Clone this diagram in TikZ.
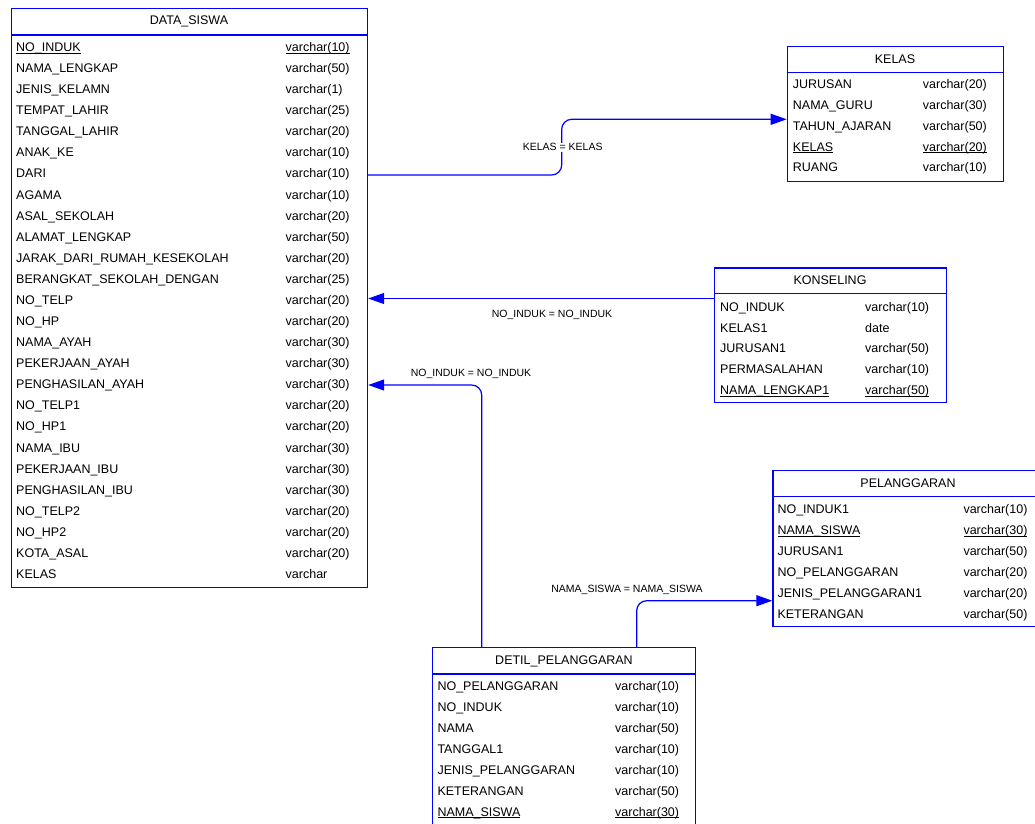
\documentclass[tikz,border=0pt]{standalone}
\usepackage{fontspec}
\setmainfont{Liberation Sans}
\usetikzlibrary{shapes,arrows.meta,positioning}
\tikzstyle{entity} = [rectangle, draw=blue, line width=1.2pt, anchor=north west, inner sep=0pt]
\tikzstyle{header} = [font=\fontsize{12.5}{15}\selectfont, inner sep=0pt]
\tikzstyle{field} = [font=\fontsize{12.5}{15}\selectfont, anchor=west, inner sep=0pt, text height=9pt, text depth=0pt]
\tikzstyle{headline} = [draw=blue, line width=1.2pt]
\tikzstyle{line} = [draw=blue, line width=1.2pt, rounded corners=10pt, -{Triangle[length=16pt,width=11pt]}]
\tikzstyle{relname} = [font=\fontsize{10.5}{12}\selectfont, fill=white, inner sep=1pt]

\begin{document}
\begin{tikzpicture}[x=1pt, y=-1pt]
    \useasboundingbox (0,0) rectangle (1035,823);
    % Place tables
    \node [entity, minimum width=356pt, minimum height=579pt] (datasiswa) at (11,8) {};
    \node [entity, minimum width=216.3pt, minimum height=135pt] (kelas) at (786.7,45.7) {};
    \node [entity, minimum width=232pt, minimum height=134.4pt] (konseling) at (714,267.3) {};
    \node [entity, minimum width=263.7pt, minimum height=155.5pt] (pelanggaran) at (772.3,470) {};
    \node [entity, minimum width=263.3pt, minimum height=178pt] (detil) at (431.7,647) {};

    % titles
    \node [header] (datasiswa-title) at (189,21.5) {DATA\_SISWA};
    \node [header] (kelas-title) at (895,59) {KELAS};
    \node [header] (konseling-title) at (830,280.5) {KONSELING};
    \node [header] (pelanggaran-title) at (908,483.5) {PELANGGARAN};
    \node [header] (detil-title) at (564,661) {DETIL\_PELANGGARAN};
    \path [headline] (datasiswa.west |- 0,35) -- (datasiswa.east |- 0,35);
    \path [headline] (kelas.west |- 0,72.7) -- (kelas.east |- 0,72.7);
    \path [headline] (konseling.west |- 0,293.3) -- (konseling.east |- 0,293.3);
    \path [headline] (pelanggaran.west |- 0,496.5) -- (pelanggaran.east |- 0,496.5);
    \path [headline] (detil.west |- 0,674) -- (detil.east |- 0,674);

    % columns
    \foreach \n/\t [count=\i from 0] in {\underline{\smash{NO\_INDUK}}/\underline{\smash{varchar(10)}},
        NAMA\_LENGKAP/varchar(50), JENIS\_KELAMN/varchar(1), TEMPAT\_LAHIR/varchar(25),
        TANGGAL\_LAHIR/varchar(20), ANAK\_KE/varchar(10), DARI/varchar(10), AGAMA/varchar(10),
        ASAL\_SEKOLAH/varchar(20), ALAMAT\_LENGKAP/varchar(50),
        JARAK\_DARI\_RUMAH\_KESEKOLAH/varchar(20), BERANGKAT\_SEKOLAH\_DENGAN/varchar(25),
        NO\_TELP/varchar(20), NO\_HP/varchar(20), NAMA\_AYAH/varchar(30),
        PEKERJAAN\_AYAH/varchar(30), PENGHASILAN\_AYAH/varchar(30), NO\_TELP1/varchar(20),
        NO\_HP1/varchar(20), NAMA\_IBU/varchar(30), PEKERJAAN\_IBU/varchar(30),
        PENGHASILAN\_IBU/varchar(30), NO\_TELP2/varchar(20), NO\_HP2/varchar(20),
        KOTA\_ASAL/varchar(20), KELAS/varchar} {
        \node [field] (ds-n\i) at (16, 47+\i*21.08) {\n};
        \node [field] (ds-t\i) at (285.5, 47+\i*21.08) {\t};
    }
    \foreach \n/\t [count=\i from 0] in {JURUSAN/varchar(20), NAMA\_GURU/varchar(30),
        TAHUN\_AJARAN/varchar(50), \underline{\smash{KELAS}}/\underline{\smash{varchar(20)}}, RUANG/varchar(10)} {
        \node [field] (kl-n\i) at (792.7, 84+\i*20.85) {\n};
        \node [field] (kl-t\i) at (922.7, 84+\i*20.85) {\t};
    }
    \foreach \n/\t [count=\i from 0] in {NO\_INDUK/varchar(10), KELAS1/date, JURUSAN1/varchar(50),
        PERMASALAHAN/varchar(10), \underline{\smash{NAMA\_LENGKAP1}}/\underline{\smash{varchar(50)}}} {
        \node [field] (ks-n\i) at (720, 306.7+\i*20.8) {\n};
        \node [field] (ks-t\i) at (865, 306.7+\i*20.8) {\t};
    }
    \foreach \n/\t [count=\i from 0] in {NO\_INDUK1/varchar(10), \underline{\smash{NAMA\_SISWA}}/\underline{\smash{varchar(30)}},
        JURUSAN1/varchar(50), NO\_PELANGGARAN/varchar(20), JENIS\_PELANGGARAN1/varchar(20),
        KETERANGAN/varchar(50)} {
        \node [field] (pl-n\i) at (777.3, 509.3+\i*20.9) {\n};
        \node [field] (pl-t\i) at (963.3, 509.3+\i*20.9) {\t};
    }
    \foreach \n/\t [count=\i from 0] in {NO\_PELANGGARAN/varchar(10), NO\_INDUK/varchar(10),
        NAMA/varchar(50), TANGGAL1/varchar(10), JENIS\_PELANGGARAN/varchar(10),
        KETERANGAN/varchar(50), \underline{\smash{NAMA\_SISWA}}/\underline{\smash{varchar(30)}}} {
        \node [field] (dp-n\i) at (437.3, 686+\i*20.95) {\n};
        \node [field] (dp-t\i) at (615, 686+\i*20.95) {\t};
    }

    % Draw edges
    \path [line] (datasiswa.east |- 0,175) -- (561.7,175) -- (561.7,119.3) -- (kelas.west |- 0,119.3);
    \path [line] (konseling.west |- 0,298.5) -- (datasiswa.east |- 0,298.5);
    \path [line] (481.7,0 |- detil.north) -- (481.7,385) -- (datasiswa.east |- 0,385);
    \path [line] (636.7,0 |- detil.north) -- (636.7,600.7) -- (pelanggaran.west |- 0,600.7);

    % relation labels
    \node [relname] (kelas-rel) at (562.7,147.3) {KELAS = KELAS};
    \node [relname] (konseling-rel) at (552,314.5) {NO\_INDUK = NO\_INDUK};
    \node [relname] (detil-rel) at (471,374) {NO\_INDUK = NO\_INDUK};
    \node [relname] (pelanggaran-rel) at (627,590) {NAMA\_SISWA = NAMA\_SISWA};

\end{tikzpicture}
\end{document}
